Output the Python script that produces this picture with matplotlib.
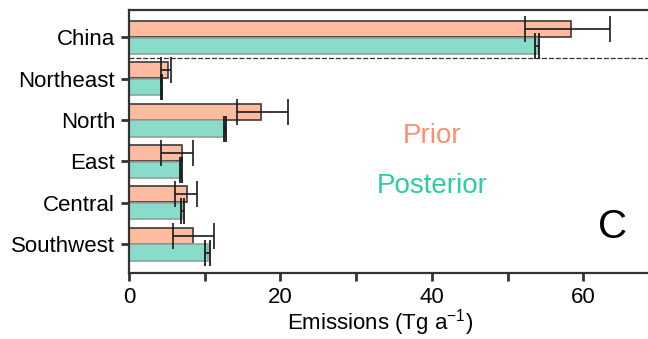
import matplotlib
matplotlib.use("Agg")
import matplotlib.pyplot as plt
import numpy as np

regions = ['China', 'Northeast', 'North', 'East', 'Central', 'Southwest']
prior = [58.4, 5.2, 17.4, 7.0, 7.6, 8.5]
prior_lo = [52.3, 4.2, 14.3, 4.2, 6.1, 5.8]
prior_hi = [63.6, 5.6, 21.0, 8.5, 9.0, 11.2]
post = [54.0, 4.3, 12.7, 6.9, 7.0, 10.5]
post_lo = [53.6, 4.2, 12.6, 6.7, 6.9, 10.0]
post_hi = [54.2, 4.4, 12.8, 7.0, 7.3, 10.7]
xticks = [0, 10, 20, 30, 40, 50, 60]
xticklabels = ['0', '', '20', '', '40', '', '60']

plt.rcParams['font.family'] = ['Liberation Sans', 'DejaVu Sans']
plt.rcParams['mathtext.fontset'] = 'custom'
plt.rcParams['mathtext.rm'] = 'Liberation Sans'
plt.rcParams['mathtext.it'] = 'Liberation Sans:italic'

W, H = 648, 339
fig = plt.figure(figsize=(W / 100, H / 100), dpi=100)
left, right, top, bottom = 129, 648, 10, 273
ax = fig.add_axes([left / W, 1 - bottom / H, (right - left) / W, (bottom - top) / H])

pink = '#FDBBA0'
teal = '#88DCC9'
y = np.arange(len(regions))
off = 0.205
h = 0.39

prior_a = np.array(prior); post_a = np.array(post)
perr = [prior_a - np.array(prior_lo), np.array(prior_hi) - prior_a]
qerr = [post_a - np.array(post_lo), np.array(post_hi) - post_a]

ax.barh(y - off, prior, height=h, color=pink, edgecolor='#3a3a3a', linewidth=1.2, zorder=2)
ax.barh(y + off, post, height=h, color=teal, edgecolor='#8fa39c', linewidth=1.2, zorder=2)
ax.errorbar(prior, y - off, xerr=perr, fmt='none', ecolor='#1a1a1a', elinewidth=1.2,
            capsize=9.5, capthick=1.2, zorder=3)
ax.errorbar(post, y + off, xerr=qerr, fmt='none', ecolor='#1a1a1a', elinewidth=1.2,
            capsize=9.5, capthick=1.3, zorder=3)

ax.axhline(0.5, color='#333333', linewidth=0.9, linestyle=(0, (4, 1.5)), zorder=1)

ax.set_xlim(0, (right - left) / 7.57)
ax.set_ylim(5.70, -0.663)
ax.set_yticks(y)
ax.set_yticklabels(regions, fontsize=16)
ax.set_xticks(xticks)
ax.set_xticklabels(xticklabels, fontsize=16)
ax.tick_params(axis='both', direction='out', length=6, width=2, color='#333333', pad=4)

for s in ['left', 'bottom', 'top']:
    ax.spines[s].set_linewidth(1.6)
    ax.spines[s].set_color('#333333')
ax.spines['right'].set_visible(False)

ax.set_xlabel('Emissions (Tg a$^{-1}$)', fontsize=16)
ax.xaxis.set_label_coords(0.4836, -0.128)

ax.text(40, 2.55, 'Prior', color='#FC8F6E', fontsize=20, ha='center', va='baseline')
ax.text(40, 3.76, 'Posterior', color='#2ECBA6', fontsize=20, ha='center', va='baseline')
ax.text((612.5 - left) / 7.57, 4.85, 'C', fontsize=29, ha='center', va='baseline')

fig.savefig('out.png', dpi=100)
